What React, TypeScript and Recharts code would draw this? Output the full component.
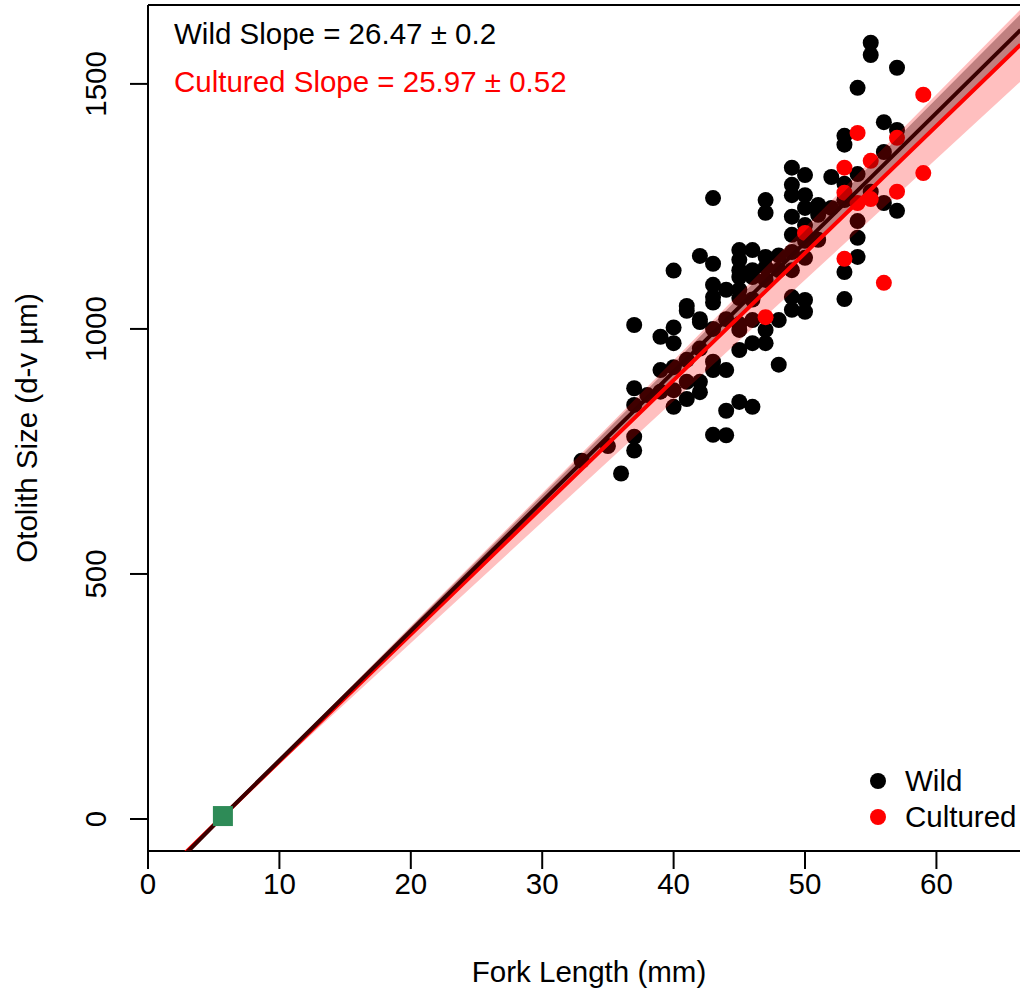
import {
  ComposedChart,
  Scatter,
  Line,
  Area,
  XAxis,
  YAxis,
  ReferenceLine,
} from "recharts";

// wild fish: fork length (mm) and otolith size (d-v µm)
const wildLength = [
  33, 35, 36,
  37, 37, 37, 37, 37,
  38, 39, 39, 39,
  40, 40, 40, 40, 40, 40,
  41, 41, 41, 41, 41,
  42, 42, 42, 42, 42, 42,
  43, 43, 43, 43, 43, 43, 43, 43, 43,
  44, 44, 44, 44, 44,
  45, 45, 45, 45, 45, 45, 45, 45, 45, 45,
  46, 46, 46, 46, 46, 46, 46,
  47, 47, 47, 47, 47, 47, 47,
  48, 48, 48, 48,
  49, 49, 49, 49, 49, 49, 49, 49, 49,
  50, 50, 50, 50, 50, 50, 50, 50,
  51, 51, 51,
  52, 52,
  53, 53, 53, 53, 53, 53,
  54, 54, 54, 54, 54,
  55, 55, 55,
  56, 56, 56,
  57, 57, 57,
];
const wildSize = [
  731, 761, 705,
  1008, 879, 845, 780, 752,
  865, 984, 916, 872,
  1119, 1003, 971, 922, 875, 841,
  1047, 1037, 937, 892, 857,
  1149, 1014, 960, 892, 871, 1020,
  1267, 1133, 1065, 1054, 933, 916, 784, 1000, 1090,
  1080, 916, 833, 783, 1020,
  1161, 1141, 1120, 1106, 1080, 1063, 998, 957, 851, 1010,
  1161, 1120, 1106, 1018, 971, 841, 1060,
  1263, 1237, 1147, 1126, 998, 971, 1100,
  1120, 1018, 927, 1150,
  1329, 1294, 1273, 1229, 1192, 1157, 1120, 1065, 1039,
  1314, 1273, 1247, 1212, 1180, 1145, 1059, 1035,
  1253, 1233, 1182,
  1310, 1247,
  1394, 1376, 1296, 1263, 1116, 1061,
  1492, 1316, 1220, 1186, 1147,
  1584, 1559, 1280,
  1422, 1361, 1257,
  1533, 1406, 1241,
];

// cultured fish
const culturedLength = [47, 50, 53, 53, 53, 54, 54, 55, 55, 56, 57, 57, 59, 59];
const culturedSize = [1024, 1196, 1329, 1278, 1143, 1400, 1257, 1343, 1265, 1094, 1390, 1280, 1478, 1318];

// fitted lines (through the hatch-size point) and their confidence bands
const fitLength = [2.5, 5.7, 66.4];
const wildFit = [-81, 6, 1610];
const wildLow = [-82, 6, 1578];
const wildHigh = [-80, 6, 1642];
const culturedFit = [-78, 6, 1580];
const culturedLow = [-82, 6, 1505];
const culturedHigh = [-74, 6, 1652];

const hatchLength = [5.7];
const hatchSize = [6];

const xTicks = [0, 10, 20, 30, 40, 50, 60];
const yTicks = [0, 500, 1000, 1500];

const wildPts = wildLength.map((x, i) => ({ x, y: wildSize[i] }));
const culturedPts = culturedLength.map((x, i) => ({ x, y: culturedSize[i] }));
const hatchPts = hatchLength.map((x, i) => ({ x, y: hatchSize[i] }));
const fitData = fitLength.map((x, i) => ({
  x,
  wild: wildFit[i],
  cultured: culturedFit[i],
  wildBand: [wildLow[i], wildHigh[i]],
  culturedBand: [culturedLow[i], culturedHigh[i]],
}));

const FONT = "'Liberation Sans', Arial, sans-serif";
const FS = 29.5;

const XTick = (props: any) => {
  const { x, y, payload } = props;
  return (
    <text x={x} y={y + 23} textAnchor="middle" fontSize={FS} fontFamily={FONT} fill="#000">
      {payload.value}
    </text>
  );
};

const YTick = (props: any) => {
  const { x, y, payload } = props;
  const tx = x - 22;
  return (
    <text
      x={tx}
      y={y}
      textAnchor="middle"
      fontSize={FS}
      fontFamily={FONT}
      fill="#000"
      transform={`rotate(-90 ${tx} ${y})`}
    >
      {payload.value}
    </text>
  );
};

const dot = (color: string) => (props: any) =>
  <circle cx={props.cx} cy={props.cy} r={8} fill={color} />;

const square = (props: any) =>
  <rect x={props.cx - 10} y={props.cy - 10} width={20} height={20} fill="#2e8b57" />;

const txt = { position: "absolute" as const, fontFamily: FONT, fontSize: FS, lineHeight: `${FS}px`, whiteSpace: "nowrap" as const };

export default function App() {
  return (
    <div style={{ position: "absolute", left: 0, top: 0, width: 1020, height: 993, background: "#fff" }}>
      <ComposedChart
        width={1020}
        height={993}
        margin={{ top: 5, right: 0, bottom: 0, left: 0 }}
      >
        <XAxis
          type="number"
          dataKey="x"
          domain={[0, 66.36]}
          ticks={xTicks}
          allowDataOverflow
          height={142}
          tickSize={18}
          tick={<XTick />}
          axisLine={{ stroke: "#000", strokeWidth: 2 }}
          tickLine={{ stroke: "#000", strokeWidth: 2 }}
        />
        <YAxis
          type="number"
          domain={[-65.3, 1661]}
          ticks={yTicks}
          allowDataOverflow
          width={148}
          tickSize={18}
          tick={<YTick />}
          axisLine={{ stroke: "#000", strokeWidth: 2 }}
          tickLine={{ stroke: "#000", strokeWidth: 2 }}
        />
        <ReferenceLine y={1661} stroke="#000" strokeWidth={2} ifOverflow="visible" />
        <Scatter data={wildPts} dataKey="y" fill="#000" shape={dot("#000")} isAnimationActive={false} zIndex={600} />
        <Scatter data={culturedPts} dataKey="y" fill="#ff0000" shape={dot("#ff0000")} isAnimationActive={false} zIndex={610} />
        <Area
          data={fitData}
          dataKey="wildBand"
          type="linear"
          stroke="none"
          fill="#000"
          fillOpacity={0.33}
          isAnimationActive={false}
          zIndex={700}
        />
        <Area
          data={fitData}
          dataKey="culturedBand"
          type="linear"
          stroke="none"
          fill="#ff0000"
          fillOpacity={0.25}
          isAnimationActive={false}
          zIndex={710}
        />
        <Line
          data={fitData}
          dataKey="cultured"
          type="linear"
          stroke="#ff0000"
          strokeWidth={4}
          dot={false}
          isAnimationActive={false}
          zIndex={720}
        />
        <Line
          data={fitData}
          dataKey="wild"
          type="linear"
          stroke="#3a0000"
          strokeWidth={4}
          dot={false}
          isAnimationActive={false}
          zIndex={730}
        />
        <Scatter data={hatchPts} dataKey="y" fill="#2e8b57" shape={square} isAnimationActive={false} zIndex={740} />
      </ComposedChart>

      <div style={{ ...txt, left: 174, top: 19, color: "#000" }}>Wild Slope = 26.47 ± 0.2</div>
      <div style={{ ...txt, left: 174, top: 67, color: "#ff0000" }}>Cultured Slope = 25.97 ± 0.52</div>

      <div style={{ position: "absolute", left: 870, top: 773, width: 16, height: 16, borderRadius: 8, background: "#000" }} />
      <div style={{ ...txt, left: 905, top: 766, color: "#000" }}>Wild</div>
      <div style={{ position: "absolute", left: 870, top: 809, width: 16, height: 16, borderRadius: 8, background: "#ff0000" }} />
      <div style={{ ...txt, left: 905, top: 802, color: "#000" }}>Cultured</div>

      <div style={{ ...txt, left: 589, top: 957, transform: "translateX(-50%)", color: "#000" }}>Fork Length (mm)</div>
      <div
        style={{
          ...txt,
          left: 27,
          top: 428,
          transform: "translate(-50%, -50%) rotate(-90deg)",
          color: "#000",
        }}
      >
        Otolith Size (d-v µm)
      </div>
    </div>
  );
}
